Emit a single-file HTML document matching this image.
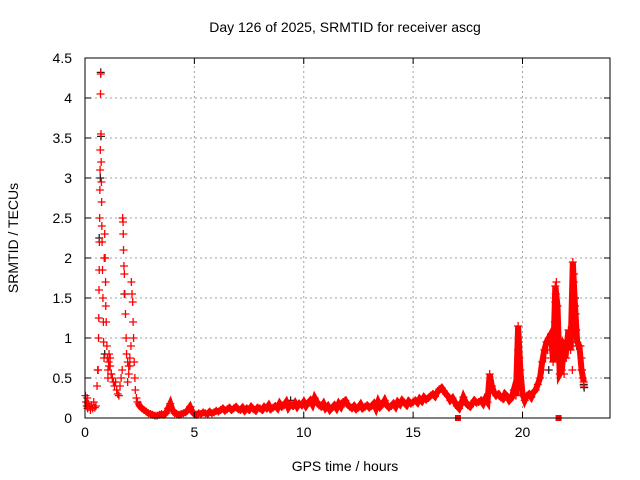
<!DOCTYPE html>
<html><head><meta charset="utf-8"><style>
body{margin:0;background:#fff}
svg{display:block;font-family:"Liberation Sans",sans-serif}
</style></head><body>
<svg id="chart" width="640" height="480">
<text x="345" y="32" text-anchor="middle" font-size="14">Day 126 of 2025, SRMTID for receiver ascg</text>
<text x="345" y="471" text-anchor="middle" font-size="14">GPS time / hours</text>
<text transform="translate(18,238) rotate(-90)" text-anchor="middle" font-size="14">SRMTID / TECUs</text>
<g id="grid"></g><g id="marks"></g><g id="axes"></g>
</svg>
<script>
const xTicks=[0,5,10,15,20];
const yTicks=[0,0.5,1,1.5,2,2.5,3,3.5,4,4.5];
const yTickLabels=["0","0.5","1","1.5","2","2.5","3","3.5","4","4.5"];
const earlyTimes=[0.02,0.05,0.08,0.1,0.12,0.15,0.2,0.25,0.3,0.35,0.4,0.45,0.5,0.55,0.58,0.6,0.62,0.63,0.64,0.65,0.66,0.67,0.68,0.69,0.7,0.71,0.72,0.73,0.74,0.75,0.76,0.77,0.78,0.8,0.82,0.84,0.85,0.87,0.88,0.9,0.92,0.94,0.95,0.97,1.0,1.02,1.05,1.08,1.1,1.15,1.2,1.25,1.3,1.35,1.4,1.45,1.5,1.55,1.6,1.65,1.7,1.72,1.74,1.75,1.76,1.78,1.8,1.82,1.85,1.88,1.9,1.95,2.0,2.05,2.1,2.12,2.15,2.18,2.2,2.22,2.25,2.28,2.3,2.35,1.05,1.1,1.15,1.2,1.95,2.0,2.05];
const earlyValues=[0.28,0.2,0.15,0.25,0.12,0.18,0.14,0.1,0.16,0.12,0.2,0.13,0.15,0.4,0.6,0.6,1.0,1.25,1.6,1.85,2.2,2.5,2.85,3.1,3.35,4.05,4.3,3.55,3.2,2.95,2.7,2.4,2.2,1.85,1.5,1.2,0.95,0.75,2.0,2.3,2.0,1.7,1.4,1.2,0.9,0.75,0.6,0.7,0.8,0.65,0.55,0.5,0.45,0.4,0.45,0.35,0.3,0.28,0.4,0.5,0.6,2.5,2.45,2.3,2.1,1.9,1.8,1.55,1.3,1.0,0.8,0.7,0.65,0.75,0.9,1.7,1.55,1.45,1.2,1.0,0.7,0.5,0.35,0.25,0.5,0.65,0.75,0.55,0.45,0.55,0.65];
const baseStart=2.4, baseStep=0.1;
const baseValues=[0.2,0.15,0.12,0.1,0.08,0.06,0.05,
0.04,0.03,0.03,0.04,0.05,0.04,0.06,0.12,0.18,0.1,
0.06,0.05,0.04,0.05,0.06,0.07,0.1,0.14,0.08,0.05,
0.04,0.06,0.05,0.07,0.06,0.05,0.08,0.06,0.07,0.09,
0.08,0.1,0.12,0.09,0.11,0.13,0.1,0.12,0.14,0.11,
0.1,0.13,0.09,0.12,0.1,0.14,0.11,0.09,0.13,0.12,
0.1,0.14,0.12,0.16,0.11,0.13,0.15,0.12,0.18,0.14,
0.16,0.2,0.13,0.17,0.15,0.19,0.14,0.18,0.16,0.2,
0.15,0.19,0.22,0.17,0.25,0.2,0.16,0.14,0.18,0.12,
0.15,0.1,0.13,0.16,0.12,0.18,0.14,0.2,0.22,0.17,
0.14,0.12,0.15,0.11,0.13,0.17,0.12,0.14,0.16,0.13,
0.15,0.18,0.12,0.2,0.14,0.17,0.22,0.16,0.13,0.15,
0.18,0.14,0.2,0.17,0.22,0.19,0.16,0.21,0.18,0.2,
0.22,0.19,0.24,0.21,0.26,0.23,0.25,0.28,0.3,0.27,
0.32,0.36,0.38,0.34,0.3,0.27,0.22,0.25,0.2,0.15,
0.12,0.18,0.26,0.2,0.16,0.14,0.18,0.22,0.19,0.2,
0.22,0.18,0.24,0.2,0.55,0.4,0.32,0.28,0.3,0.26,
0.24,0.3,0.27,0.22,0.25,0.35,0.28,1.15,0.6,0.3,
0.22,0.28,0.3,0.26,0.32,0.35,0.42,0.5,0.7,0.85,
0.95,1.0,1.05,0.7,1.65,1.4,0.55,0.6,0.9,0.85,
1.1,0.85,1.95,1.4,0.95,0.9,0.6,0.45];
const spikeTimes=[19.78,19.8,19.8,19.82,19.85,21.45,21.48,21.5,21.52,21.55,22.28,22.3,22.32,22.34,22.36,22.65,22.7,22.72,22.75,22.8,20.95,21.05,21.15,21.25,21.9,22.0];
const spikeValues=[0.4,0.6,0.85,1.0,0.75,1.0,1.2,1.45,1.55,1.7,0.6,0.9,1.3,1.7,1.8,0.9,0.75,0.6,0.5,0.4,0.6,0.75,0.85,0.95,0.55,0.75];
const blackTimes=[0.72,0.73,0.7,0.65,0.9,1.8,9.4,21.2,22.4,22.42,22.45,22.48,22.8,22.82];
const blackValues=[4.32,3.52,3.0,2.25,0.8,1.55,0.22,0.6,1.5,1.3,1.1,0.9,0.42,0.38];
const squareTimes=[17.05,21.65];
const squareValues=[0.0,0.0];

const X0=85,X1=610,Y0=418,Y1=58,XMAX=24,YMAX=4.5;
const sx=t=>X0+t/XMAX*(X1-X0);
const sy=v=>Y0-v/YMAX*(Y0-Y1);
const NS="http://www.w3.org/2000/svg";
function mk(tag,parent){const e=document.createElementNS(NS,tag);parent.appendChild(e);return e;}
const grid=document.getElementById('grid'),marks=document.getElementById('marks'),axes=document.getElementById('axes');
xTicks.forEach(t=>{
 if(t>0){const l=mk('line',grid);l.setAttribute('x1',sx(t));l.setAttribute('x2',sx(t));l.setAttribute('y1',Y0);l.setAttribute('y2',Y1);l.setAttribute('stroke','#a0a0a0');l.setAttribute('stroke-dasharray','2,3');
 
 }
 const tk=mk('path',axes);tk.setAttribute('d',`M${sx(t)},${Y0}v-6M${sx(t)},${Y1}v6`);tk.setAttribute('stroke','#000');
 
 
 const tx=mk('text',axes);tx.textContent=t;tx.setAttribute('x',sx(t));tx.setAttribute('y',Y0+19);tx.setAttribute('text-anchor','middle');tx.setAttribute('font-size','14');
 
 
});
yTicks.forEach((v,i)=>{
 if(v>0&&v<YMAX){const l=mk('line',grid);l.setAttribute('x1',X0);l.setAttribute('x2',X1);l.setAttribute('y1',sy(v));l.setAttribute('y2',sy(v));l.setAttribute('stroke','#a0a0a0');l.setAttribute('stroke-dasharray','2,3');
 
 }
 const tk=mk('path',axes);tk.setAttribute('d',`M${X0},${sy(v)}h6M${X1},${sy(v)}h-6`);tk.setAttribute('stroke','#000');
 
 
 const tx=mk('text',axes);tx.textContent=yTickLabels[i];tx.setAttribute('x',X0-13);tx.setAttribute('y',sy(v)+5);tx.setAttribute('text-anchor','end');tx.setAttribute('font-size','14');
 
 
});
const box=mk('rect',axes);box.setAttribute('x',X0);box.setAttribute('y',Y1);box.setAttribute('width',X1-X0);box.setAttribute('height',Y0-Y1);box.setAttribute('fill','none');box.setAttribute('stroke','#000');


function plus(t,v,color,name){
 const p=mk('path',marks);const x=sx(t),y=sy(v);
 p.setAttribute('d',`M${x-4},${y}h8M${x},${y-4}v8`);p.setAttribute('stroke',color);p.setAttribute('stroke-width','1.3');
 
 
}
blackTimes.forEach((t,i)=>plus(t,blackValues[i],'#222','black-point'));
const bt=baseValues.map((v,i)=>baseStart+i*baseStep);
const poly=mk('polyline',marks);poly.setAttribute('points',bt.map((t,i)=>sx(t)+','+sy(baseValues[i])).join(' '));poly.setAttribute('fill','none');poly.setAttribute('stroke','#f00');poly.setAttribute('stroke-width','6');


earlyTimes.forEach((t,i)=>plus(t,earlyValues[i],'#f00','srmtid-point'));
bt.forEach((t,i)=>plus(t,baseValues[i],'#f00','srmtid-point'));
spikeTimes.forEach((t,i)=>plus(t,spikeValues[i],'#f00','srmtid-point'));
squareTimes.forEach((t,i)=>{const r=mk('rect',marks);r.setAttribute('x',sx(t)-3);r.setAttribute('y',sy(squareValues[i])-3);r.setAttribute('width',6);r.setAttribute('height',6);r.setAttribute('fill','#f00');
 
 });
</script>
</body></html>
